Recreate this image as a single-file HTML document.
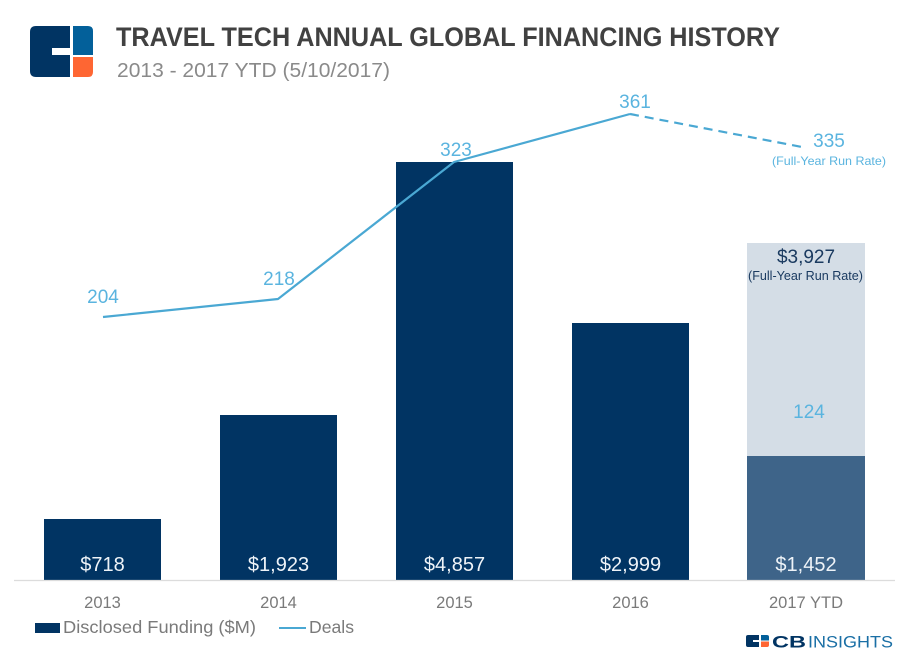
<!DOCTYPE html>
<html>
<head>
<meta charset="utf-8">
<style>
html,body{margin:0;padding:0;background:#fff;}
svg{display:block;}
text{font-family:"Liberation Sans",sans-serif;}
</style>
</head>
<body>
<svg width="909" height="660" viewBox="0 0 909 660" xmlns="http://www.w3.org/2000/svg">
  <rect width="909" height="660" fill="#fff"/>
  <!-- Logo -->
  <path d="M36,26 H70 V48 H52 V55 H70 V77 H36 Q30,77 30,71 V32 Q30,26 36,26 Z" fill="#013463"/>
  <path d="M73,26 H88 Q93,26 93,31 V55 H73 Z" fill="#03609a"/>
  <path d="M73,57 H93 V72 Q93,77 88,77 H73 Z" fill="#fe6633"/>
  <!-- Title -->
  <text x="116" y="46" font-size="27" font-weight="bold" fill="#414141" textLength="664" lengthAdjust="spacingAndGlyphs">TRAVEL TECH ANNUAL GLOBAL FINANCING HISTORY</text>
  <text x="117" y="77" font-size="20" fill="#8a8a8a" textLength="273" lengthAdjust="spacingAndGlyphs">2013 - 2017 YTD (5/10/2017)</text>

  <!-- Bars -->
  <rect x="44" y="519" width="117" height="61" fill="#013463"/>
  <rect x="220" y="415" width="117" height="165" fill="#013463"/>
  <rect x="396" y="162" width="117" height="418" fill="#013463"/>
  <rect x="572" y="323" width="117" height="257" fill="#013463"/>
  <rect x="747" y="243" width="118" height="213" fill="#d4dde6"/>
  <rect x="747" y="456" width="118" height="124" fill="#3e6489"/>

  <!-- Axis line -->
  <line x1="14" y1="580.5" x2="895" y2="580.5" stroke="#dcdcdc" stroke-width="1.2"/>

  <!-- Bar labels -->
  <g font-size="20" fill="#eef3f8" text-anchor="middle">
    <text x="102.5" y="571">$718</text>
    <text x="278.5" y="571">$1,923</text>
    <text x="454.5" y="571">$4,857</text>
    <text x="630.5" y="571">$2,999</text>
    <text x="806" y="571">$1,452</text>
  </g>

  <!-- Year labels -->
  <g font-size="16.5" fill="#7a7a7a" text-anchor="middle">
    <text x="102.5" y="608">2013</text>
    <text x="278.5" y="608">2014</text>
    <text x="454.5" y="608">2015</text>
    <text x="630.5" y="608">2016</text>
    <text x="806" y="608">2017 YTD</text>
  </g>

  <!-- Deals line -->
  <polyline points="103,317 278,299 454,162 630,114" fill="none" stroke="#4aa8d3" stroke-width="2.2" stroke-linejoin="round"/>
  <line x1="630" y1="114" x2="802" y2="147" stroke="#4aa8d3" stroke-width="2.2" stroke-dasharray="9,6"/>

  <!-- Deals labels -->
  <g font-size="19" fill="#5ab4df" text-anchor="middle">
    <text x="103" y="303">204</text>
    <text x="279" y="285">218</text>
    <text x="456" y="156">323</text>
    <text x="635" y="108">361</text>
    <text x="829" y="147">335</text>
    <text x="809" y="418">124</text>
  </g>
  <text x="772" y="165" font-size="12" fill="#5ab4df" textLength="114" lengthAdjust="spacingAndGlyphs">(Full-Year Run Rate)</text>

  <text x="806" y="263" font-size="19" fill="#1a3a60" text-anchor="middle">$3,927</text>
  <text x="748" y="280" font-size="12.5" fill="#1a3a60" textLength="115" lengthAdjust="spacingAndGlyphs">(Full-Year Run Rate)</text>

  <!-- Legend -->
  <rect x="35" y="623" width="25" height="10" fill="#013463"/>
  <text x="63" y="633" font-size="17.5" fill="#7a7a7a" textLength="193" lengthAdjust="spacingAndGlyphs">Disclosed Funding ($M)</text>
  <line x1="279" y1="628" x2="306" y2="628" stroke="#4aa8d3" stroke-width="2"/>
  <text x="309" y="633" font-size="17.5" fill="#7a7a7a" textLength="45" lengthAdjust="spacingAndGlyphs">Deals</text>

  <!-- CB Insights logo -->
  <path d="M748,635 H759 V640 H753 V642 H759 V647 H748 Q746,647 746,645 V637 Q746,635 748,635 Z" fill="#013463"/>
  <path d="M761,635 H767 Q769,635 769,637 V640.5 H761 Z" fill="#03609a"/>
  <path d="M761,641.5 H769 V645 Q769,647 767,647 H761 Z" fill="#fe6633"/>
  <text x="772" y="647.5" font-size="16.5" font-weight="bold" fill="#013463" textLength="34" lengthAdjust="spacingAndGlyphs">CB</text>
  <text x="808" y="647.5" font-size="16.5" fill="#1a6fa5" textLength="85" lengthAdjust="spacingAndGlyphs">INSIGHTS</text>
</svg>
</body>
</html>
